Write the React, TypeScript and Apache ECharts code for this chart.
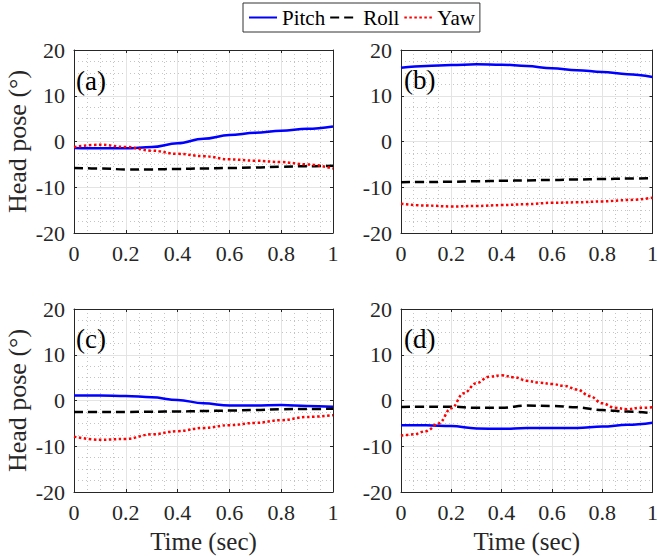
import React, { useEffect, useRef } from "react";
import * as echarts from "echarts";

const T10 = [0, 0.1, 0.2, 0.3, 0.4, 0.5, 0.6, 0.7, 0.8, 0.9, 1];
const T20 = [0, 0.05, 0.1, 0.15, 0.2, 0.25, 0.3, 0.35, 0.4, 0.45, 0.5, 0.55, 0.6, 0.65, 0.7, 0.75, 0.8, 0.85, 0.9, 0.95, 1];

const xTicks = { min: 0, max: 1, interval: 0.2 };
const yTicks = { min: -20, max: 20, interval: 10 };

const pitchA = [-1.4, -1.5, -1.5, -1.2, -0.4, 0.6, 1.4, 1.9, 2.35, 2.8, 3.3];
const rollA = [-5.8, -5.9, -6.1, -6.1, -6.0, -5.9, -5.8, -5.7, -5.5, -5.4, -5.3];
const yawA = [-1.2, -0.7, -1.2, -2.0, -2.7, -3.2, -3.9, -4.2, -4.5, -5.0, -5.9];

const pitchB = [16.1, 16.5, 16.7, 16.9, 16.8, 16.5, 16.0, 15.6, 15.2, 14.7, 14.1];
const rollB = [-8.9, -8.85, -8.8, -8.7, -8.6, -8.5, -8.4, -8.3, -8.2, -8.1, -8.0];
const yawB = [-13.6, -14.0, -14.2, -14.1, -13.9, -13.7, -13.4, -13.3, -13.1, -12.8, -12.3];

const pitchC = [1.1, 1.1, 1.0, 0.7, 0.1, -0.6, -1.1, -1.1, -1.0, -1.2, -1.35];
const rollC = [-2.5, -2.5, -2.5, -2.45, -2.4, -2.3, -2.2, -2.05, -1.9, -1.85, -1.8];
const yawC = [-7.9, -8.6, -8.4, -7.4, -6.7, -6.0, -5.4, -4.9, -4.3, -3.6, -3.2];

const pitchD = [-5.4, -5.4, -5.6, -6.1, -6.2, -6.0, -6.0, -6.0, -5.7, -5.3, -4.85];
const rollD = [-1.4, -1.35, -1.35, -1.6, -1.6, -1.1, -1.2, -1.5, -2.1, -2.4, -2.8];
const yawD = [-7.7, -7.4, -6.7, -5.0, -1.7, 1.6, 3.8, 5.2, 5.5, 5.1, 4.3, 3.9, 3.6, 3.2, 2.4, 1.0, -0.6, -1.6, -1.9, -1.6, -1.5];

const panelLabels = ["(a)", "(b)", "(c)", "(d)"];
const seriesNames = ["Pitch", "Roll", "Yaw"];
const yLabel = "Head pose (°)";
const xLabel = "Time (sec)";

const panels = [
  { pitch: [T10, pitchA], roll: [T10, rollA], yaw: [T10, yawA] },
  { pitch: [T10, pitchB], roll: [T10, rollB], yaw: [T10, yawB] },
  { pitch: [T10, pitchC], roll: [T10, rollC], yaw: [T10, yawC] },
  { pitch: [T10, pitchD], roll: [T10, rollD], yaw: [T20, yawD] },
];

const FONT = "Liberation Serif";
const AX = "#262626";

const grids = [
  { left: 74, top: 50, width: 259, height: 183 },
  { left: 401, top: 50, width: 259, height: 183 },
  { left: 74, top: 309, width: 259, height: 183 },
  { left: 401, top: 309, width: 259, height: 183 },
];

const labelPos = [
  { x: 76, y: 82 },
  { x: 404, y: 81 },
  { x: 76, y: 340 },
  { x: 404, y: 340 },
];

function zip(t: number[], v: number[]) {
  return t.map((x, i) => [x, v[i]]);
}

export default function App() {
  const ref = useRef<HTMLDivElement>(null);
  useEffect(() => {
    document.body.style.margin = "0";
    if (!ref.current) return;
    const chart = echarts.init(ref.current, undefined, { renderer: "svg" });

    const xAxis: any[] = [];
    const yAxis: any[] = [];
    const series: any[] = [];
    grids.forEach((g, i) => {
      const bottomRow = i >= 2;
      const leftCol = i % 2 === 0;
      xAxis.push({
        type: "value",
        gridIndex: i,
        ...xTicks,
        position: "bottom",
        name: bottomRow ? xLabel : "",
        nameLocation: "middle",
        nameGap: 37,
        nameTextStyle: { fontFamily: FONT, fontSize: 25, color: AX },
        axisLine: { show: true, onZero: false, lineStyle: { color: AX, width: 1 } },
        axisTick: { show: true, inside: true, length: 3, lineStyle: { color: AX } },
        axisLabel: { fontFamily: FONT, fontSize: 22, color: AX, margin: 9 },
        splitLine: { show: true, lineStyle: { color: "#e4e4e4", width: 1 } },
        minorTick: { show: false, splitNumber: 4 },
        minorSplitLine: { show: true, lineStyle: { color: "#c4c4c4", width: 1, type: [1, 3] } },
      });
      xAxis.push({
        type: "value",
        gridIndex: i,
        ...xTicks,
        position: "top",
        axisLine: { show: true, onZero: false, lineStyle: { color: AX, width: 1 } },
        axisTick: { show: true, inside: true, length: 3, lineStyle: { color: AX } },
        axisLabel: { show: false },
        splitLine: { show: false },
      });
      yAxis.push({
        type: "value",
        gridIndex: i,
        ...yTicks,
        position: "left",
        name: leftCol ? yLabel : "",
        nameLocation: "middle",
        nameGap: 44,
        nameTextStyle: { fontFamily: FONT, fontSize: 26, color: AX },
        axisLine: { show: true, onZero: false, lineStyle: { color: AX, width: 1 } },
        axisTick: { show: true, inside: true, length: 3, lineStyle: { color: AX } },
        axisLabel: { fontFamily: FONT, fontSize: 22, color: AX, margin: 9 },
        splitLine: { show: true, lineStyle: { color: "#e4e4e4", width: 1 } },
        minorTick: { show: false, splitNumber: 4 },
        minorSplitLine: { show: true, lineStyle: { color: "#c4c4c4", width: 1, type: [1, 3] } },
      });
      yAxis.push({
        type: "value",
        gridIndex: i,
        ...yTicks,
        position: "right",
        axisLine: { show: true, onZero: false, lineStyle: { color: AX, width: 1 } },
        axisTick: { show: true, inside: true, length: 3, lineStyle: { color: AX } },
        axisLabel: { show: false },
        splitLine: { show: false },
      });
      const p = panels[i];
      const common = {
        type: "line",
        xAxisIndex: i * 2,
        yAxisIndex: i * 2,
        symbol: "none",
        smooth: 0.4,
        smoothMonotone: "x",
        silent: true,
      };
      series.push({
        ...common,
        name: seriesNames[0],
        data: zip(p.pitch[0] as number[], p.pitch[1] as number[]),
        lineStyle: { color: "#0000ff", width: 2.5 },
        itemStyle: { color: "#0000ff" },
        z: 2,
      });
      series.push({
        ...common,
        name: seriesNames[1],
        data: zip(p.roll[0] as number[], p.roll[1] as number[]),
        lineStyle: { color: "#000000", width: 2.5, type: [9, 5] },
        itemStyle: { color: "#000000" },
        z: 3,
      });
      series.push({
        ...common,
        name: seriesNames[2],
        data: zip(p.yaw[0] as number[], p.yaw[1] as number[]),
        lineStyle: { color: "#ff0000", width: 2.5, type: [2.5, 2.5] },
        itemStyle: { color: "#ff0000" },
        z: 4,
      });
    });

    chart.setOption({
      animation: false,
      backgroundColor: "#ffffff",
      textStyle: { fontFamily: FONT },
      grid: grids.map((g) => ({ ...g, containLabel: false })),
      xAxis,
      yAxis,
      series,
      legend: {
        data: seriesNames,
        left: 243,
        top: 3,
        padding: [4, 5],
        itemGap: 4,
        itemWidth: 28,
        itemHeight: 20,
        backgroundColor: "#ffffff",
        borderColor: "#333333",
        borderWidth: 1,
        borderRadius: 0,
        selectedMode: false,
        itemStyle: { opacity: 0 },
        textStyle: { fontFamily: FONT, fontSize: 21, color: "#000" },
      },
      graphic: panelLabels.map((t, i) => ({
        type: "text",
        left: labelPos[i].x,
        top: labelPos[i].y - 15,
        z: 100,
        style: { text: t, fontFamily: FONT, fontSize: 27, fill: "#000" },
      })),
    });
    return () => chart.dispose();
  }, []);
  return <div ref={ref} style={{ width: 661, height: 556 }} />;
}
